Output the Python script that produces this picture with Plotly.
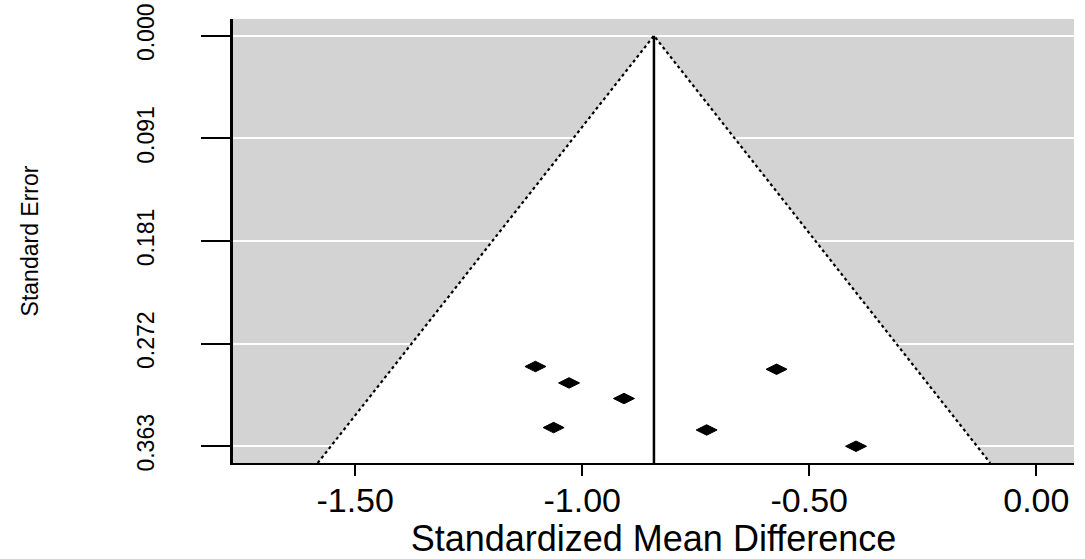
import plotly.graph_objects as go

# Study estimates (standardized mean difference) and standard errors
smd = [-1.103, -1.029, -0.908, -1.063, -0.572, -0.726, -0.397]
se = [0.2925, 0.307, 0.3208, 0.3465, 0.2949, 0.3486, 0.363]

pooled = -0.842
y_tickvals = [0.0, 0.09075, 0.1815, 0.27225, 0.363]
y_ticktext = ["0.000", "0.091", "0.181", "0.272", "0.363"]
x_tickvals = [-1.5, -1.0, -0.5, 0.0]
x_ticktext = ["-1.50", "-1.00", "-0.50", "0.00"]

x_range = [-1.769, 0.083]
y_range = [0.3778, -0.0148]

se_bot = y_range[0]
fx = [pooled - 1.96 * se_bot, pooled, pooled + 1.96 * se_bot]
fy = [se_bot, 0.0, se_bot]

font_family = "Liberation Sans, Arial, sans-serif"

fig = go.Figure()
# white funnel region
fig.add_trace(go.Scatter(x=fx, y=fy, mode="lines", fill="toself",
                         fillcolor="white", line=dict(color="black", width=2.2, dash="dot"),
                         hoverinfo="skip", showlegend=False))
# pooled estimate line
fig.add_trace(go.Scatter(x=[pooled, pooled], y=[0.0, se_bot], mode="lines",
                         line=dict(color="black", width=2.5), showlegend=False))
# studies
fig.add_trace(go.Scatter(x=smd, y=se, mode="markers",
                         marker=dict(symbol="diamond-wide", size=15, color="black",
                                     line=dict(width=1, color="black")),
                         showlegend=False))

fig.update_layout(
    width=1085, height=559,
    margin=dict(l=233, r=11, t=19, b=96),
    paper_bgcolor="white",
    plot_bgcolor="#d3d3d3",
    font=dict(family=font_family, color="black"),
    xaxis=dict(range=x_range, tickvals=x_tickvals, ticktext=x_ticktext, automargin=False,
               showgrid=False, zeroline=False, showline=True, linecolor="black",
               linewidth=2, ticks="outside", ticklen=11, tickwidth=2, tickcolor="black",
               tickfont=dict(size=34), ticklabelstandoff=-5,
               title=dict(text="Standardized Mean Difference", font=dict(size=36), standoff=29)),
    yaxis=dict(range=y_range, tickvals=y_tickvals, ticktext=y_ticktext, automargin=False,
               showgrid=True, gridcolor="white", gridwidth=1.5, zeroline=False,
               showline=True, linecolor="black", linewidth=3,
               ticks="outside", ticklen=29, tickwidth=2, tickcolor="black",
               tickangle=-90, tickfont=dict(size=23), ticklabelstandoff=38,
               title=dict(text="Standard Error", font=dict(size=23), standoff=88)),
)

fig.write_html("out.html", config={"displayModeBar": False},
               post_script="document.body.style.margin='0';")
